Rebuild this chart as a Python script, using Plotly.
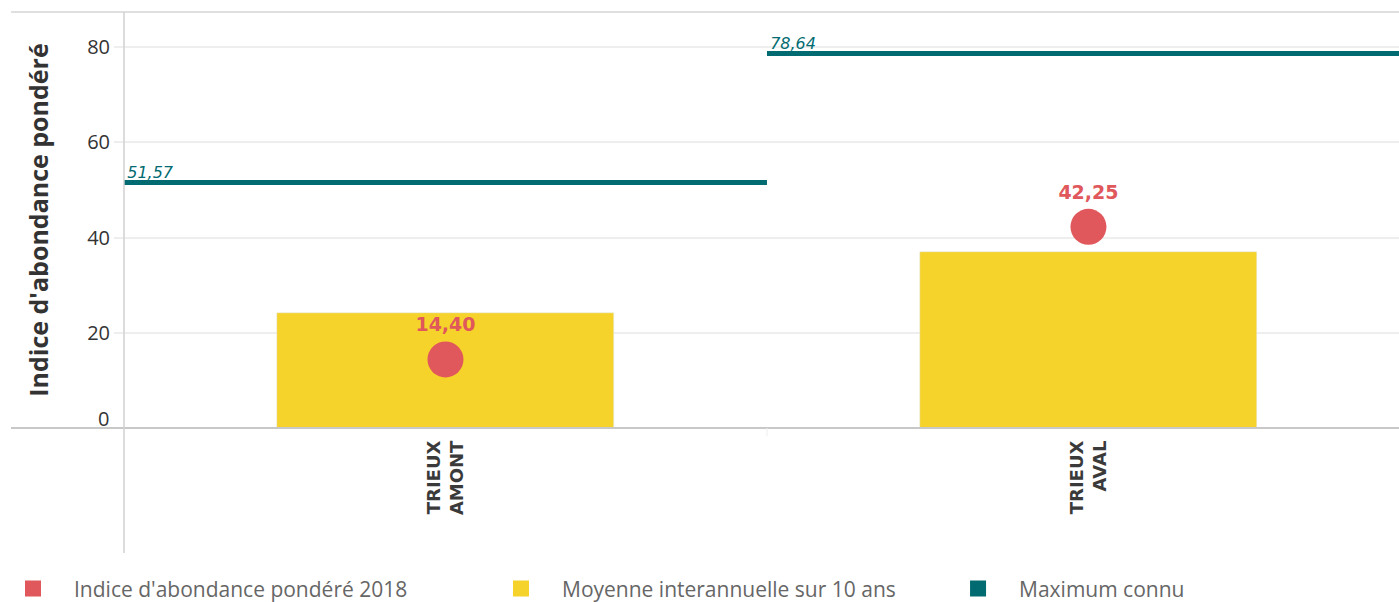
import plotly.graph_objects as go

# ---- data ----
categories = ["TRIEUX AMONT", "TRIEUX AVAL"]
indice_2018 = [14.40, 42.25]
moyenne_10ans = [24.15, 37.0]
maximum_connu = [51.57, 78.64]
y_ticks = [0, 20, 40, 60, 80]

series_names = ["Indice d'abondance pondéré 2018", "Moyenne interannuelle sur 10 ans", "Maximum connu"]
RED = "#E0585B"
YELLOW = "#F6D32B"
TEAL = "#026B71"

def fr(v):
    return f"{v:.2f}".replace(".", ",")

xs = list(range(len(categories)))

fig = go.Figure()

# bars
fig.add_trace(go.Bar(x=xs, y=moyenne_10ans, width=0.523, marker=dict(color=YELLOW),
                     showlegend=False, hoverinfo="y"))

# maximum lines (span each category slot)
lx, ly = [], []
for i, m in zip(xs, maximum_connu):
    lx += [i - 0.5, i + 0.5, None]
    ly += [m, m, None]
fig.add_trace(go.Scatter(x=lx, y=ly, mode="lines", line=dict(color=TEAL, width=5),
                         showlegend=False, hoverinfo="skip"))
fig.add_trace(go.Scatter(x=[i - 0.5 for i in xs], y=maximum_connu, mode="text",
                         text=["\u2009" + fr(v) for v in maximum_connu], textposition="top right",
                         textfont=dict(family="DejaVu Sans", size=16, color=TEAL, style="italic"),
                         showlegend=False, hoverinfo="skip"))

# dots
fig.add_trace(go.Scatter(x=xs, y=indice_2018, mode="markers+text",
                         marker=dict(size=36, color=RED),
                         text=[fr(v) for v in indice_2018], textposition="top center",
                         textfont=dict(family="DejaVu Sans", size=19, color=RED, weight="bold"),
                         showlegend=False))

# legend entries (square swatches)
legend_x = [0.0, 0.3431, 0.6698]
legend_indent = [-8, 0, 0]
for k, (name, col) in enumerate(zip(series_names, [RED, YELLOW, TEAL])):
    lg = "legend" if k == 0 else f"legend{k+1}"
    fig.add_trace(go.Scatter(x=[None], y=[None], mode="markers", name=name,
                             marker=dict(symbol="square", size=20, color=col),
                             legend=lg, showlegend=True))

legend_common = dict(xref="container", yref="container", yanchor="middle", y=0.022,
                     orientation="h", itemwidth=72, bgcolor="rgba(0,0,0,0)",
                     font=dict(family="Open Sans", size=21, color="#666666"))
fig.update_layout(
    legend=dict(x=legend_x[0], indentation=legend_indent[0], **legend_common),
    legend2=dict(x=legend_x[1], indentation=legend_indent[1], **legend_common),
    legend3=dict(x=legend_x[2], indentation=legend_indent[2], **legend_common),
)

tick_labels = ["" if t == 0 else str(t) for t in y_ticks]

fig.update_layout(
    width=1399, height=602,
    margin=dict(l=124, r=0, t=12, b=174),
    plot_bgcolor="white", paper_bgcolor="white",
    bargap=0,
    xaxis=dict(range=[-0.5, 1.483], tickvals=xs,
               ticktext=[c.replace(" ", "<br>") for c in categories],
               tickangle=-90, showgrid=False, zeroline=False, showline=False,
               tickfont=dict(family="DejaVu Sans", size=18, color="#3A3A3A", weight="bold"),
               ticks="", ticklabelstandoff=8, fixedrange=True),
    yaxis=dict(range=[0, 87.35], tickvals=y_ticks, ticktext=tick_labels,
               showgrid=True, gridcolor="#EEEEEE",
               gridwidth=1.5, zeroline=False, showline=False,
               ticks="outside", ticklen=9, tickcolor="#EEEEEE", tickwidth=1.5,
               tickfont=dict(family="Open Sans", size=20, color="#333333"),
               title=dict(text="Indice d'abondance pondéré", standoff=31,
                          font=dict(family="Open Sans", size=25, color="#333333", weight="bold"))),
    annotations=[
        dict(text="0", xref="paper", yref="y", x=-0.0105, y=y_ticks[0], xanchor="right",
             yanchor="middle", yshift=10, showarrow=False,
             font=dict(family="Open Sans", size=20, color="#333333")),
    ],
    shapes=[
        dict(type="line", xref="paper", yref="paper", x0=-0.0886, x1=1, y0=1, y1=1,
             line=dict(color="#D4D4D4", width=1.5)),
        dict(type="line", xref="paper", yref="paper", x0=-0.0886, x1=1, y0=0, y1=0,
             line=dict(color="#C8C8C8", width=2)),
        dict(type="line", xref="paper", yref="paper", x0=0, x1=0, y0=1, y1=-0.3005,
             line=dict(color="#D0D0D0", width=1.5)),
        dict(type="line", xref="x", yref="paper", x0=0.5, x1=0.5, y0=0, y1=-0.02,
             line=dict(color="#EEEEEE", width=1)),
    ],
)

fig.write_html("out.html", config={"displayModeBar": False},
               post_script="document.body.style.margin='0';")
